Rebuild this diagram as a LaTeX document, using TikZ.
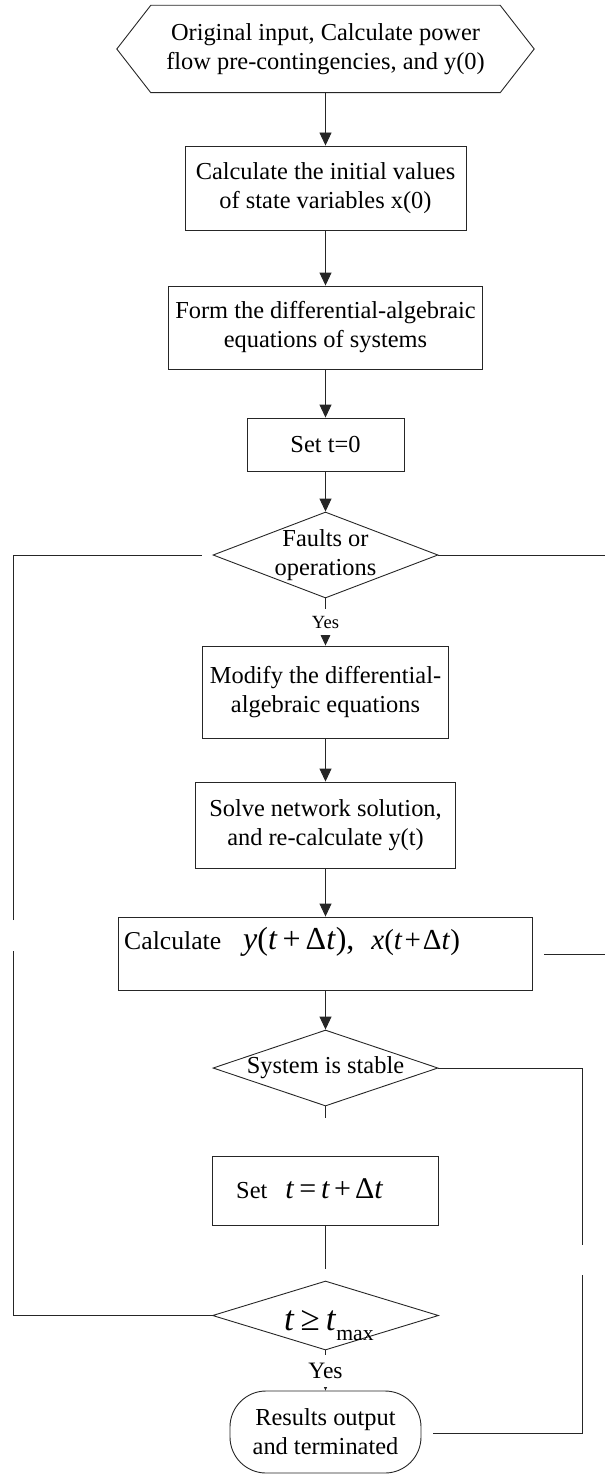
\documentclass[tikz,border=0pt]{standalone}
\usepackage{fontspec}
\setmainfont{Liberation Serif}
\usetikzlibrary{arrows.meta,shapes.geometric}
\begin{document}
\begin{tikzpicture}[x=1pt,y=-1pt,
  every node/.style={font=\fontsize{24.4}{29}\selectfont},
  ln/.style={line width=0.9pt, draw=black!85},
  arr/.style={ln, -{Triangle[length=13pt,width=12pt]}},
  box/.style={ln, draw, inner sep=0pt, align=center},
  dia/.style={ln, draw, diamond, inner sep=0pt},
  txt/.style={inner sep=0pt, align=center},
  term/.style={ln, draw, rounded corners=36pt, inner sep=0pt, align=center}]
\useasboundingbox (0,0) rectangle (605,1474);

% start hexagon
\node[txt, minimum width=417pt, minimum height=87pt] (start) at (325.5,49)
  {Original input, Calculate power\\flow pre-contingencies, and y(0)};
\draw[ln] (start.west) -- ([xshift=34pt]start.north west) -- ([xshift=-34pt]start.north east)
  -- (start.east) -- ([xshift=-34pt]start.south east) -- ([xshift=34pt]start.south west) -- cycle;

\node[box, minimum width=281pt, minimum height=84pt] (b1) at (325.5,188)
  {Calculate the initial values\\of state variables x(0)};
\node[box, minimum width=314pt, minimum height=83pt] (b2) at (325.5,327.5)
  {Form the differential-algebraic\\equations of systems};
\node[box, minimum width=157pt, minimum height=53pt] (b3) at (325.5,444.5) {Set t=0};
\node[dia, minimum width=225pt, minimum height=86pt] (d1) at (325.5,555) {};
\node[txt] at (d1) {Faults or\\operations};
\node[box, minimum width=246pt, minimum height=92pt] (b4) at (325.5,692)
  {Modify the differential-\\algebraic equations};
\node[box, minimum width=260pt, minimum height=86pt] (b5) at (325.5,825)
  {Solve network solution,\\and re-calculate y(t)};
\node[box, minimum width=414pt, minimum height=73pt] (b6) at (325.5,953.5) {};
\node[txt, anchor=base west] (b6t) at (124,949)
  {{\fontsize{25.7}{29}\selectfont Calculate}\hspace{22pt}{\fontsize{32}{32}\selectfont\textit{y}(\textit{t}\hspace{5pt}+\hspace{5pt}Δ\textit{t}),}\hspace{17pt}{\fontsize{29}{29}\selectfont\textit{x}(\textit{t}\hspace{2pt}+\hspace{2pt}Δ\textit{t})}};
\node[dia, minimum width=225pt, minimum height=76pt] (d2) at (325.5,1068) {};
\node[txt] at (d2) {System is stable};
\node[box, minimum width=226pt, minimum height=69pt] (b7) at (325.5,1190.5) {};
\node[txt, anchor=base west] (b7t) at (236,1198)
  {Set\hspace{18pt}{\fontsize{30}{30}\selectfont\textit{t}\hspace{5pt}=\hspace{5pt}\textit{t}\hspace{4pt}+\hspace{4pt}Δ\textit{t}}};
\node[dia, minimum width=226pt, minimum height=69pt] (d3) at (325.5,1315.5) {};
\node[txt, anchor=base west] (d3t) at (284,1330)
  {{\fontsize{35}{35}\selectfont\textit{t}\hspace{6pt}≥\hspace{6pt}\textit{t}}\raisebox{-10.5pt}{\fontsize{21.7}{22}\selectfont max}};
\node[term, minimum width=191pt, minimum height=82pt] (end) at (325.5,1432)
  {Results output\\and terminated};

% main connectors
\draw[arr] (start.south) -- (b1.north);
\draw[arr] (b1.south) -- (b2.north);
\draw[arr] (b2.south) -- (b3.north);
\draw[arr] (b3.south) -- (d1.north);
\draw[arr] (d1.south) -- (b4.north);
\node[txt, fill=white, minimum height=26pt, font=\fontsize{18.6}{20}\selectfont] (yes1) at (325.5,622) {Yes};
\draw[arr] (b4.south) -- (b5.north);
\draw[arr] (b5.south) -- (b6.north);
\draw[arr] (b6.south) -- (d2.north);
\coordinate (s2) at (325.5,1118);
\draw[ln] (d2.south) -- (s2);
\coordinate (s3) at (325.5,1269);
\draw[ln] (b7.south) -- (s3);
\draw[arr] (d3.south) -- (end.north);
\node[txt, fill=white, minimum height=32pt, font=\fontsize{23.5}{25}\selectfont] (yes2) at (325.5,1371) {Yes};

% left loop
\coordinate (l1) at (13.5,1315.5);
\coordinate (l2) at (13.5,951);
\coordinate (l3) at (13.5,920);
\coordinate (l4) at (13.5,555);
\coordinate (l5) at (201.8,555);
\draw[ln] (d3.west) -- (l1) -- (l2);
\draw[ln] (l3) -- (l4) -- (l5);

% right lines
\coordinate (r1) at (605,555);
\draw[ln] (d1.east) -- (r1);
\coordinate (r2a) at (544,954);
\coordinate (r2b) at (605,954);
\draw[ln] (r2a) -- (r2b);
\coordinate (r3) at (582.5,1068);
\coordinate (r4) at (582.5,1245);
\coordinate (r5) at (582.5,1275);
\coordinate (r6) at (582.5,1433);
\coordinate (r7) at (433,1433);
\draw[ln] (d2.east) -- (r3) -- (r4);
\draw[ln] (r5) -- (r6) -- (r7);
\end{tikzpicture}
\end{document}
